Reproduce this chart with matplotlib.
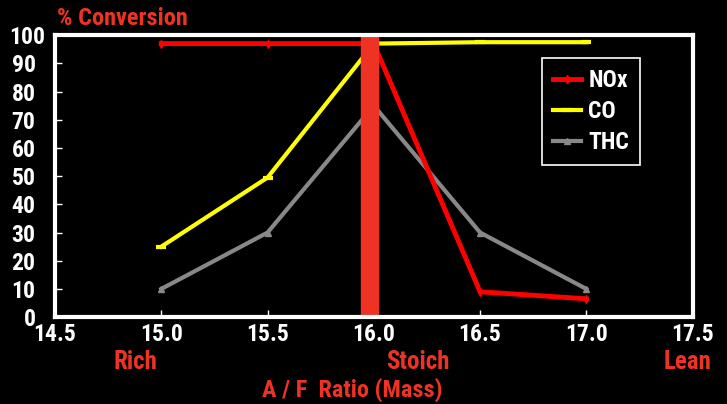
import numpy as np
import matplotlib.pyplot as plt
from matplotlib import font_manager
from matplotlib.transforms import ScaledTranslation

# A/F ratio vs conversion efficiency
af_ratio = [15.0, 15.5, 16.0, 16.5, 17.0]
nox = [97, 97, 97, 9, 6.5]
co = [25, 49.5, 97, 97.5, 97.5]
thc = [10, 30, 75, 30, 10]

x_ticks = [14.5, 15.0, 15.5, 16.0, 16.5, 17.0, 17.5]
y_ticks = [0, 10, 20, 30, 40, 50, 60, 70, 80, 90, 100]

red_txt = '#ee3224'

# pick a narrow font if there is one
names = set(f.name for f in font_manager.fontManager.ttflist)
font = None
for cand in ['Liberation Sans Narrow', 'Roboto Condensed', 'Arial Narrow', 'Roboto']:
    if cand in names:
        font = [cand, 'DejaVu Sans']
        break
if font is None:
    font = ['DejaVu Sans']

fig = plt.figure(figsize=(7.27, 4.04), dpi=100, facecolor='black')
ax = fig.add_axes([0.0757, 0.215, 0.877, 0.698], facecolor='black')

# stoichiometric band, drawn over the lines
ax.axvspan(15.942, 16.022, color=red_txt, zorder=5)

ax.plot(af_ratio, thc, color='#888888', lw=3, marker='^', ms=5, label='THC', zorder=2)
ax.plot(af_ratio, co, color='#ffff00', lw=3, marker='_', ms=7, mew=3, label='CO', zorder=3)
ax.plot(af_ratio, nox, color='#ff0000', lw=3.5, marker='d', ms=4, label='NOx', zorder=4)

ax.set_xlim(14.5, 17.5)
ax.set_ylim(0, 100)
ax.set_xticks(x_ticks)
ax.set_xticklabels(['%.1f' % v for v in x_ticks])
ax.set_yticks(y_ticks)

for s in ax.spines.values():
    s.set_color('white')
    s.set_linewidth(3)
    s.set_zorder(6)
ax.tick_params(direction='in', colors='white', length=5, width=1, labelsize=17, pad=4)
ax.tick_params(axis='y', pad=14)
for lab in ax.get_xticklabels() + ax.get_yticklabels():
    lab.set_family(font)
    lab.set_fontweight('bold')
# the "100" label sticks out to the right of the others
top_lab = ax.get_yticklabels()[-1]
top_lab.set_transform(top_lab.get_transform() + ScaledTranslation(10/100, 0, fig.dpi_scale_trans))

fig.text(0.078, 0.953, '% Conversion', color=red_txt, fontsize=17.5, fontweight='bold',
         family=font, ha='left', va='center')
fig.text(135/727, 1 - 362/404, 'Rich', color=red_txt, fontsize=18, fontweight='bold',
         family=font, ha='center', va='center')
fig.text(418/727, 1 - 362/404, 'Stoich', color=red_txt, fontsize=18, fontweight='bold',
         family=font, ha='center', va='center')
fig.text(688/727, 1 - 362/404, 'Lean', color=red_txt, fontsize=18, fontweight='bold',
         family=font, ha='center', va='center')
fig.text(352/727, 1 - 390/404, 'A / F  Ratio (Mass)', color=red_txt, fontsize=17.5,
         fontweight='bold', family=font, ha='center', va='center')

h, l = ax.get_legend_handles_labels()
leg = ax.legend(h[::-1], l[::-1], loc='upper right', bbox_to_anchor=(0.917, 0.918),
                borderaxespad=0,
                facecolor='black', edgecolor='white', framealpha=1, fancybox=False,
                prop={'family': font, 'weight': 'bold', 'size': 17}, handlelength=1.2,
                labelspacing=0.35, borderpad=0.45, handletextpad=0.3)
leg.get_frame().set_linewidth(1.2)
leg.set_zorder(7)
for t in leg.get_texts():
    t.set_color('white')

fig.savefig('out.png', dpi=100, facecolor='black')
